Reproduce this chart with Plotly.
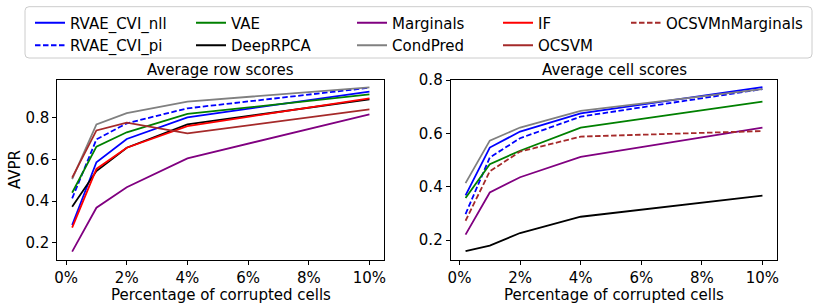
import plotly.graph_objects as go

W, H = 817, 308

pct = [0.2, 1, 2, 4, 10]
tick_vals = [0, 2, 4, 6, 8, 10]
tick_text = ["0%", "2%", "4%", "6%", "8%", "10%"]
y_ticks = [0.2, 0.4, 0.6, 0.8]

# Average row scores (AVPR)
row_rvae_nll = [0.285, 0.586, 0.698, 0.802, 0.925]
row_rvae_pi = [0.413, 0.696, 0.773, 0.845, 0.944]
row_vae = [0.440, 0.661, 0.730, 0.818, 0.912]
row_deeprpca = [0.373, 0.544, 0.656, 0.768, 0.888]
row_marginals = [0.157, 0.368, 0.466, 0.605, 0.816]
row_condpred = [0.505, 0.768, 0.822, 0.877, 0.946]
row_if = [0.272, 0.554, 0.656, 0.760, 0.893]
row_ocsvm = [0.512, 0.739, 0.776, 0.725, 0.840]

# Average cell scores
cell_rvae_nll = [0.368, 0.547, 0.607, 0.675, 0.773]
cell_rvae_pi = [0.298, 0.510, 0.582, 0.663, 0.766]
cell_vae = [0.358, 0.485, 0.535, 0.622, 0.719]
cell_deeprpca = [0.159, 0.180, 0.227, 0.288, 0.367]
cell_marginals = [0.221, 0.379, 0.436, 0.512, 0.622]
cell_condpred = [0.414, 0.573, 0.622, 0.684, 0.766]
cell_ocsvmnmarg = [0.273, 0.458, 0.532, 0.588, 0.609]

FONT = "DejaVu Sans"
LW = 1.8
DASH = "5.5px,2.5px"

series = [
    # name, row values, cell values, color, dash, legend
    ("RVAE_CVI_nll", row_rvae_nll, cell_rvae_nll, "#0000ff", "solid", "legend"),
    ("RVAE_CVI_pi", row_rvae_pi, cell_rvae_pi, "#0000ff", DASH, "legend"),
    ("VAE", row_vae, cell_vae, "#008000", "solid", "legend2"),
    ("DeepRPCA", row_deeprpca, cell_deeprpca, "#000000", "solid", "legend2"),
    ("Marginals", row_marginals, cell_marginals, "#800080", "solid", "legend3"),
    ("CondPred", row_condpred, cell_condpred, "#808080", "solid", "legend3"),
    ("IF", row_if, None, "#ff0000", "solid", "legend4"),
    ("OCSVM", row_ocsvm, None, "#a52a2a", "solid", "legend4"),
    ("OCSVMnMarginals", None, cell_ocsvmnmarg, "#a52a2a", DASH, "legend5"),
]

fig = go.Figure()
for rank, (name, rv, cv, color, dash, leg) in enumerate(series):
    shown = False
    if rv is not None:
        fig.add_trace(go.Scatter(x=pct, y=rv, mode="lines", name=name,
                                 line=dict(color=color, width=LW, dash=dash),
                                 xaxis="x", yaxis="y", legend=leg,
                                 legendrank=rank, showlegend=True))
        shown = True
    if cv is not None:
        fig.add_trace(go.Scatter(x=pct, y=cv, mode="lines", name=name,
                                 line=dict(color=color, width=LW, dash=dash),
                                 xaxis="x2", yaxis="y2", legend=leg,
                                 legendrank=rank, showlegend=not shown))

def px_x(p):
    return p / W

def px_y(p):
    return 1 - p / H

axis_common = dict(showline=True, mirror=True, linecolor="black", linewidth=1,
                   ticks="outside", ticklen=4, tickcolor="black", tickwidth=1,
                   showgrid=False, zeroline=False, automargin=False,
                   tickfont=dict(family=FONT, size=15, color="black"))

fig.update_layout(
    width=W, height=H,
    margin=dict(l=0, r=0, t=0, b=0, autoexpand=False),
    paper_bgcolor="white", plot_bgcolor="white",
    font=dict(family=FONT, size=15, color="black"),
    xaxis=dict(domain=[px_x(57.3), px_x(384.3)], range=[-0.29, 10.49],
               tickvals=tick_vals, ticktext=tick_text, anchor="y", **axis_common),
    yaxis=dict(domain=[px_y(260), px_y(80)], range=[0.117, 0.981],
               tickvals=y_ticks, tickformat=".1f", anchor="x", **axis_common),
    xaxis2=dict(domain=[px_x(450.7), px_x(777.3)], range=[-0.29, 10.49],
                tickvals=tick_vals, ticktext=tick_text, anchor="y2", **axis_common),
    yaxis2=dict(domain=[px_y(260), px_y(80)], range=[0.126, 0.800],
                tickvals=y_ticks, tickformat=".1f", anchor="x2", **axis_common),
    showlegend=True,
)

leg_common = dict(orientation="v", xanchor="left", yanchor="top",
                  bgcolor="rgba(0,0,0,0)", borderwidth=0,
                  font=dict(family=FONT, size=15, color="black"),
                  tracegroupgap=0, traceorder="normal")
col_text_x = [71, 232, 393, 539, 667]
legend_y = px_y(6.5)
names = ["legend", "legend2", "legend3", "legend4", "legend5"]
leg_layout = {}
for nm, tx in zip(names, col_text_x):
    leg_layout[nm] = dict(x=px_x(tx - 41), y=legend_y, **leg_common)
fig.update_layout(**leg_layout)

# legend frame (rounded)
x0, x1, y0, y1, r = 25, 812, 6.7, 58, 4
path = (f"M {px_x(x0 + r)},{px_y(y0)} L {px_x(x1 - r)},{px_y(y0)} "
        f"Q {px_x(x1)},{px_y(y0)} {px_x(x1)},{px_y(y0 + r)} "
        f"L {px_x(x1)},{px_y(y1 - r)} Q {px_x(x1)},{px_y(y1)} {px_x(x1 - r)},{px_y(y1)} "
        f"L {px_x(x0 + r)},{px_y(y1)} Q {px_x(x0)},{px_y(y1)} {px_x(x0)},{px_y(y1 - r)} "
        f"L {px_x(x0)},{px_y(y0 + r)} Q {px_x(x0)},{px_y(y0)} {px_x(x0 + r)},{px_y(y0)} Z")
fig.add_shape(type="path", path=path, xref="paper", yref="paper",
              line=dict(color="#cccccc", width=1), fillcolor="rgba(0,0,0,0)",
              layer="below")

ann = dict(xref="paper", yref="paper", showarrow=False,
           font=dict(family=FONT, size=15, color="black"))
fig.add_annotation(text="Average row scores", x=px_x(220.8), y=px_y(70),
                   xanchor="center", yanchor="middle", **ann)
fig.add_annotation(text="Average cell scores", x=px_x(614), y=px_y(70),
                   xanchor="center", yanchor="middle", **ann)
fig.add_annotation(text="Percentage of corrupted cells", x=px_x(220.8), y=px_y(295),
                   xanchor="center", yanchor="middle", **ann)
fig.add_annotation(text="Percentage of corrupted cells", x=px_x(614), y=px_y(295),
                   xanchor="center", yanchor="middle", **ann)
fig.add_annotation(text="AVPR", x=px_x(15), y=px_y(170), textangle=-90,
                   xanchor="center", yanchor="middle", **ann)

fig.write_html("out.html", config={"displayModeBar": False},
               post_script="document.body.style.margin='0';document.body.style.overflow='hidden';")
